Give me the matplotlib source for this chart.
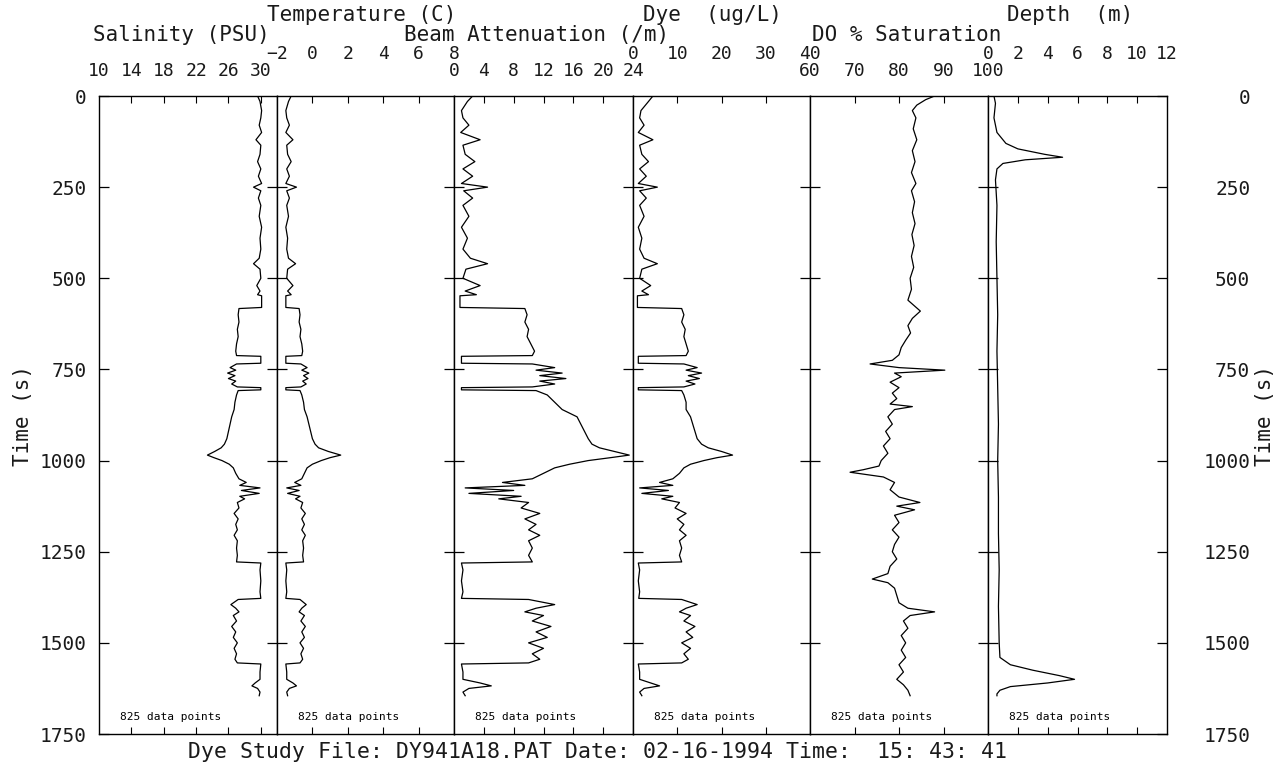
import matplotlib
matplotlib.use("Agg")
import matplotlib.pyplot as plt
import matplotlib.transforms as mtransforms

# ---------------- data ----------------
# shared time base for salinity / temperature / beam / dye (s)
time_s = [0, 15, 40, 60, 80, 100, 120, 135, 160, 180,
          200, 220, 240, 250, 260, 280, 300, 330, 360, 390,
          420, 445, 460, 475, 500, 520, 535, 545, 548, 580,
          583, 600, 620, 640, 660, 680, 700, 712, 714, 733,
          735, 745, 752, 760, 767, 775, 782, 790, 798, 800,
          806, 808, 820, 840, 860, 880, 900, 920, 940, 955,
          965, 975, 985, 992, 1000, 1010, 1020, 1035, 1050, 1060,
          1068, 1075, 1082, 1090, 1098, 1105, 1115, 1130, 1145, 1160,
          1175, 1190, 1205, 1220, 1240, 1260, 1278, 1281, 1300, 1330,
          1360, 1378, 1381, 1395, 1405, 1415, 1425, 1440, 1455, 1470,
          1485, 1500, 1515, 1530, 1545, 1555, 1558, 1580, 1600, 1610,
          1618, 1625, 1635, 1645]

salinity = [29.6, 29.9, 30.1, 30.0, 29.8, 30.1, 29.4, 30.0, 29.9, 29.6,
            30.0, 29.7, 30.1, 29.1, 30.0, 29.7, 30.0, 29.8, 30.1, 29.9,
            30.0, 29.8, 29.1, 29.9, 30.0, 29.5, 29.9, 29.6, 30.1, 30.1,
            27.3, 27.2, 27.3, 27.1, 27.2, 27.0, 26.9, 27.0, 30.0, 30.0,
            27.0, 26.2, 26.9, 25.9, 26.8, 26.0, 26.9, 26.4, 27.1, 30.0,
            30.0, 27.2, 27.0, 26.8, 26.7, 26.4, 26.2, 26.0, 25.8, 25.5,
            25.1, 24.3, 23.4, 24.2, 25.2, 26.1, 26.6, 26.9, 27.3, 28.2,
            27.4, 29.9, 27.6, 29.8, 27.4, 28.0, 27.1, 27.3, 26.7, 27.2,
            26.9, 27.1, 26.7, 27.1, 27.0, 27.1, 27.0, 30.0, 29.9, 30.0,
            29.9, 30.0, 27.2, 26.3, 26.9, 27.3, 26.6, 27.0, 26.4, 26.9,
            26.6, 27.1, 26.7, 27.0, 26.8, 27.1, 30.0, 29.9, 29.9, 29.3,
            28.9, 29.6, 29.9, 29.8]

temperature = [-1.2, -1.35, -1.5, -1.45, -1.3, -1.5, -1.1, -1.45, -1.4, -1.2,
               -1.45, -1.3, -1.5, -0.9, -1.45, -1.3, -1.45, -1.35, -1.5, -1.4,
               -1.45, -1.35, -0.95, -1.4, -1.45, -1.1, -1.4, -1.2, -1.5, -1.5,
               -0.75, -0.7, -0.75, -0.65, -0.7, -0.6, -0.55, -0.6, -1.5, -1.5,
               -0.65, -0.3, -0.6, -0.2, -0.5, -0.25, -0.55, -0.35, -0.65, -1.5,
               -1.5, -0.7, -0.6, -0.5, -0.45, -0.3, -0.2, -0.1, 0.0, 0.15,
               0.35, 0.9, 1.6, 1.0, 0.5, 0.0, -0.3, -0.45, -0.6, -1.0,
               -0.65, -1.45, -0.75, -1.4, -0.7, -0.95, -0.55, -0.65, -0.4, -0.6,
               -0.45, -0.6, -0.4, -0.55, -0.5, -0.55, -0.5, -1.5, -1.45, -1.5,
               -1.45, -1.5, -0.7, -0.35, -0.6, -0.75, -0.45, -0.65, -0.4, -0.6,
               -0.45, -0.7, -0.5, -0.65, -0.55, -0.7, -1.5, -1.45, -1.45, -1.1,
               -0.9, -1.3, -1.45, -1.4]

beam = [2.5, 1.8, 1.0, 1.2, 2.0, 0.9, 3.5, 1.2, 1.5, 2.8,
        1.2, 2.5, 1.0, 4.5, 1.3, 2.5, 1.2, 2.0, 1.0, 1.8,
        1.2, 2.2, 4.5, 1.6, 1.2, 3.5, 1.5, 3.0, 0.8, 0.8,
        9.5, 9.8, 9.5, 10.0, 9.8, 10.3, 10.8, 10.5, 1.0, 1.0,
        10.5, 13.5, 11.0, 14.5, 11.5, 15.0, 11.5, 13.5, 10.5, 1.0,
        1.0, 11.0, 12.5, 13.5, 14.5, 16.5, 17.0, 17.5, 18.0, 18.5,
        19.5, 21.5, 23.5, 21.0, 18.0, 15.5, 13.5, 12.0, 10.5, 6.5,
        9.5, 1.5, 8.0, 2.0, 9.0, 6.0, 10.0, 9.0, 11.5, 9.5,
        11.0, 10.0, 11.5, 10.0, 10.5, 10.0, 10.5, 1.0, 1.2, 1.0,
        1.2, 1.0, 10.0, 13.5, 11.0, 9.5, 12.0, 10.5, 13.0, 11.0,
        12.5, 10.0, 12.0, 10.5, 11.5, 10.0, 1.0, 1.2, 1.2, 3.5,
        5.0, 2.0, 1.2, 1.5]

dye = [4.5, 3.5, 1.8, 1.5, 2.5, 1.2, 4.5, 1.5, 2.0, 3.5,
       1.5, 3.0, 1.2, 5.5, 1.5, 3.0, 1.5, 2.5, 1.2, 2.0,
       1.5, 2.5, 5.5, 2.0, 1.5, 4.0, 2.0, 3.5, 1.0, 1.0,
       11.0, 11.5, 11.0, 11.8, 11.5, 12.0, 12.5, 12.0, 1.2, 1.2,
       11.5, 14.5, 12.0, 15.5, 12.5, 15.0, 12.0, 14.0, 11.5, 1.2,
       1.2, 11.0, 11.5, 12.0, 12.0, 13.0, 13.5, 14.0, 14.5, 15.5,
       17.0, 20.0, 22.5, 19.0, 16.0, 13.0, 11.5, 10.5, 9.0, 6.0,
       9.0, 1.5, 8.0, 2.0, 9.0, 6.5, 10.5, 9.5, 12.0, 10.0,
       11.5, 10.5, 12.0, 10.5, 11.0, 10.5, 11.0, 1.2, 1.5, 1.2,
       1.5, 1.3, 11.0, 14.5, 12.0, 10.5, 13.0, 11.5, 14.0, 12.0,
       13.5, 11.0, 13.0, 11.5, 12.5, 11.0, 1.2, 1.5, 1.5, 4.0,
       6.0, 2.5, 1.5, 2.0]

time_do = [0, 10, 25, 40, 60, 90, 120, 150, 180, 210,
           240, 260, 290, 320, 350, 380, 410, 440, 470, 500,
           530, 560, 590, 610, 630, 650, 670, 690, 710, 725,
           735, 745, 752, 760, 770, 785, 800, 815, 830, 845,
           852, 860, 880, 900, 920, 940, 960, 980, 1000, 1015,
           1025, 1032, 1045, 1060, 1080, 1100, 1115, 1125, 1135, 1150,
           1170, 1190, 1210, 1230, 1250, 1270, 1290, 1310, 1325, 1335,
           1350, 1370, 1390, 1405, 1415, 1425, 1440, 1460, 1480, 1500,
           1520, 1540, 1560, 1580, 1600, 1615, 1630, 1645]
do_sat = [88.0, 86.0, 84.0, 83.0, 83.8, 83.2, 84.0, 83.0, 83.6, 82.8,
          83.8, 82.8, 83.5, 83.0, 83.6, 82.9, 83.4, 82.8, 83.3, 82.5,
          82.8, 82.0, 84.8, 83.0, 82.0, 82.6, 81.5, 80.5, 80.0, 78.5,
          73.5, 80.0, 90.3, 79.0, 80.5, 78.0, 80.0, 78.5, 79.5, 78.0,
          83.0, 79.0, 77.5, 78.5, 77.0, 78.0, 76.5, 77.5, 76.0, 75.5,
          72.0, 69.0, 76.5, 79.0, 78.0, 80.0, 84.7, 79.5, 83.5, 79.0,
          80.0, 78.5, 80.0, 79.0, 78.5, 79.5, 78.0, 77.5, 74.0, 77.5,
          79.0, 79.5, 80.0, 82.0, 88.0, 82.5, 81.0, 82.0, 80.5, 81.5,
          80.5, 81.5, 80.0, 81.0, 79.5, 81.0, 82.0, 82.5]

time_depth = [0, 20, 60, 100, 130, 145, 160, 168, 175, 185,
              200, 230, 300, 400, 500, 600, 700, 800, 900, 1000,
              1100, 1200, 1300, 1400, 1500, 1540, 1560, 1575, 1590, 1600,
              1610, 1620, 1630, 1640, 1645]
depth = [0.4, 0.5, 0.4, 0.6, 1.2, 2.0, 3.8, 5.0, 2.5, 1.0,
         0.6, 0.5, 0.6, 0.55, 0.6, 0.65, 0.6, 0.65, 0.7, 0.65,
         0.7, 0.7, 0.75, 0.7, 0.75, 0.8, 1.5, 3.0, 4.8, 5.8,
         4.0, 1.5, 0.8, 0.6, 0.6]

# panel titles / scales / ticks
titles = ["Salinity (PSU)", "Temperature (C)", "Beam Attenuation (/m)",
          "Dye  (ug/L)", "DO % Saturation", "Depth  (m)"]
xlims = [(10, 32), (-2, 8), (0, 24), (0, 40), (60, 100), (0, 12)]
tick_vals = [[10, 14, 18, 22, 26, 30], [-2, 0, 2, 4, 6, 8], [0, 4, 8, 12, 16, 20, 24],
             [0, 10, 20, 30, 40], [60, 70, 80, 90, 100], [0, 2, 4, 6, 8, 10, 12]]
tick_labels = [["10", "14", "18", "22", "26", "30"], ["\u22122", "0", "2", "4", "6", "8"],
               ["0", "4", "8", "12", "16", "20", "24"], ["0", "10", "20", "30", "40"],
               ["60", "70", "80", "90", "100"], ["0", "2", "4", "6", "8", "10", "12"]]
time_ticks = [0, 250, 500, 750, 1000, 1250, 1500, 1750]
footer = "Dye Study File: DY941A18.PAT Date: 02-16-1994 Time:  15: 43: 41"
npoints_note = "825 data points"

# ---------------- figure ----------------
W, H = 1284, 767
fig = plt.figure(figsize=(W / 100, H / 100), dpi=100)
FONT = "DejaVu Sans Mono"
plt.rcParams["font.family"] = FONT
TXT = "#1a1a1a"

edges = [99, 277, 454, 633, 810, 988, 1167]
top_px, bot_px = 96, 734

series = [(salinity, time_s), (temperature, time_s), (beam, time_s),
          (dye, time_s), (do_sat, time_do), (depth, time_depth)]
# row of the title (0 = upper row, 1 = lower row); tick labels follow on rows 3/4
title_row = [1, 0, 1, 0, 1, 0]
title_y = {0: 15, 1: 35}
label_y = {0: 54, 1: 71}
title_x = [181, 362, 537, 712, 907, 1070]

axes = []
for i in range(6):
    x0 = edges[i] / W
    w = (edges[i + 1] - edges[i]) / W
    ax = fig.add_axes([x0, 1 - bot_px / H, w, (bot_px - top_px) / H])
    axes.append(ax)
    vals, tt = series[i]
    ax.plot(vals, tt, color="black", lw=0.9)
    ax.set_xlim(*xlims[i])
    ax.set_ylim(1750, 0)
    for sp in ax.spines.values():
        sp.set_linewidth(1.0)
        sp.set_color("black")
    # x ticks (top & bottom, inward, no labels)
    inner = [v for v in tick_vals[i] if xlims[i][0] < v < xlims[i][1]]
    ax.set_xticks(inner)
    ax.tick_params(axis="x", which="both", direction="in", top=True, bottom=True,
                   labeltop=False, labelbottom=False, length=5, width=0.8)
    # y ticks
    if i == 0:
        ax.set_yticks(time_ticks)
        ax.tick_params(axis="y", direction="in", left=True, right=False, length=7,
                       width=0.9, labelsize=14, pad=9, labelcolor=TXT)
    else:
        ax.set_yticks(time_ticks[1:-1])
        ax.tick_params(axis="y", direction="inout", left=True, right=False,
                       labelleft=False, length=14, width=0.9)
    # tick labels placed at their data positions above the panel
    trans = mtransforms.blended_transform_factory(ax.transData, fig.transFigure)
    row = title_row[i]
    for v, lab in zip(tick_vals[i], tick_labels[i]):
        ax.text(v, 1 - label_y[row] / H, lab, transform=trans, ha="center",
                va="center", fontsize=13, family=FONT, color=TXT)
    fig.text(title_x[i] / W, 1 - title_y[title_row[i]] / H, titles[i], ha="center",
             va="center", fontsize=15, family=FONT, color=TXT)
    ax.text(21 / (edges[i + 1] - edges[i]), 0.027, npoints_note,
            transform=ax.transAxes, ha="left", va="center", fontsize=8, family=FONT)

# right-hand time axis
axr = axes[-1].twinx()
axr.set_ylim(1750, 0)
axr.set_yticks(time_ticks)
axr.tick_params(axis="y", direction="in", right=True, length=7, width=0.9,
                labelsize=14, pad=60, labelcolor=TXT)
for lab in axr.get_yticklabels():
    lab.set_horizontalalignment("right")
    lab.set_family(FONT)
for sp in axr.spines.values():
    sp.set_visible(False)

fig.text(23 / W, 1 - 415 / H, "Time (s)", rotation=90, ha="center", va="center",
         fontsize=15, family=FONT, color=TXT)
fig.text(1265 / W, 1 - 415 / H, "Time (s)", rotation=90, ha="center", va="center",
         fontsize=15, family=FONT, color=TXT)
fig.text(597 / W, 1 - 752 / H, footer, ha="center", va="center", fontsize=15.5,
         family=FONT, color=TXT)

fig.savefig("out.png", dpi=100)
